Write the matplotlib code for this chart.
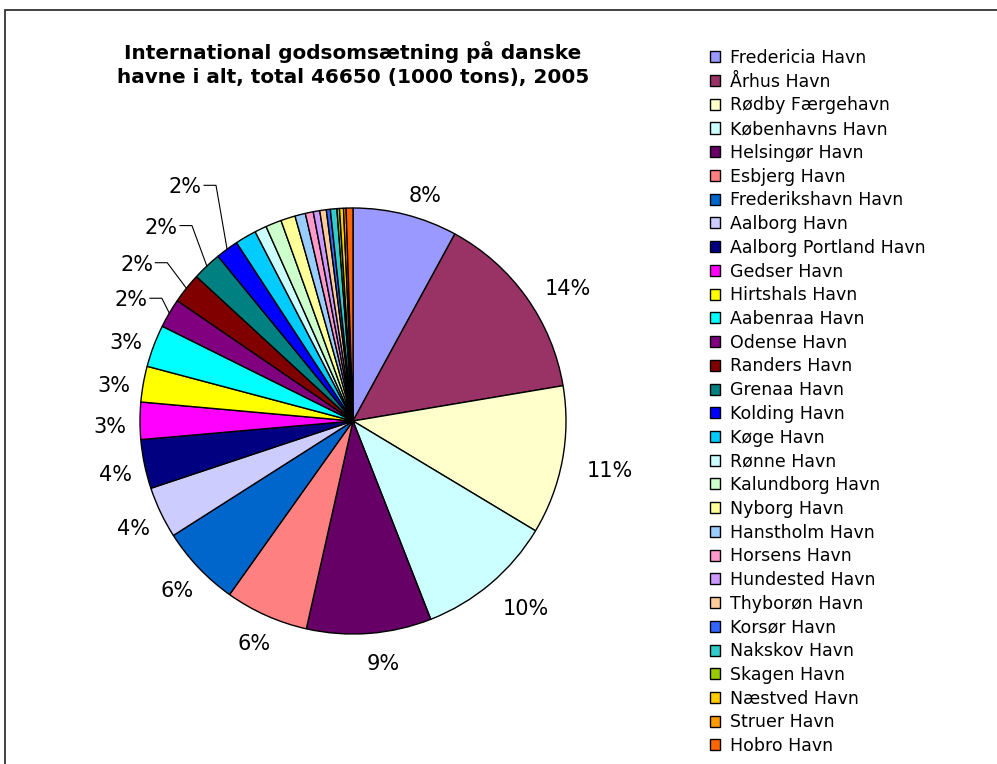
import numpy as np
import matplotlib
matplotlib.use("Agg")
from matplotlib import pyplot as plt
from matplotlib.patches import Rectangle

plt.rcParams['font.family'] = ['DejaVu Sans']

# godsomsaetning pr. havn, 1000 tons (aflaest fra figuren)
ports = ["Fredericia Havn", "Århus Havn", "Rødby Færgehavn", "Københavns Havn",
         "Helsingør Havn", "Esbjerg Havn", "Frederikshavn Havn", "Aalborg Havn",
         "Aalborg Portland Havn", "Gedser Havn", "Hirtshals Havn", "Aabenraa Havn",
         "Odense Havn", "Randers Havn", "Grenaa Havn", "Kolding Havn", "Køge Havn",
         "Rønne Havn", "Kalundborg Havn", "Nyborg Havn", "Hanstholm Havn",
         "Horsens Havn", "Hundested Havn", "Thyborøn Havn", "Korsør Havn",
         "Nakskov Havn", "Skagen Havn", "Næstved Havn", "Struer Havn", "Hobro Havn"]
tons = [3690, 6700, 5240, 4850, 4400, 2940, 2850, 1820,
        1730, 1310, 1260, 1490, 1030, 1070, 1030, 800, 750,
        420, 560, 510, 370, 280, 230, 230, 140,
        230, 90, 140, 90, 240]
colors = ["#9999FF", "#993366", "#FFFFCC", "#CCFFFF", "#660066", "#FF8080",
          "#0066CC", "#CCCCFF", "#000080", "#FF00FF", "#FFFF00", "#00FFFF",
          "#800080", "#800000", "#008080", "#0000FF", "#00CCFF", "#CCFFFF",
          "#CCFFCC", "#FFFF99", "#99CCFF", "#FF99CC", "#CC99FF", "#FFCC99",
          "#3366FF", "#33CCCC", "#99CC00", "#FFCC00", "#FF9900", "#FF6600"]
n_labels = 16
leader_ports = ["Odense Havn", "Randers Havn", "Grenaa Havn", "Kolding Havn"]

title = "International godsomsætning på danske\nhavne i alt, total 46650 (1000 tons), 2005"

fig = plt.figure(figsize=(9.97, 7.64), dpi=100)

# ramme rundt om diagrammet (beskaaret i hoejre og nederste kant)
fig.patches.append(Rectangle((5 / 997, -0.05), 1.1, (764 - 10) / 764 + 0.05,
                             transform=fig.transFigure, fill=False,
                             edgecolor="#333333", linewidth=1.3))

# pie centre at (353, 421) px, radius 213 px
r_px = 213
lim = 1.6
ax = fig.add_axes([(353 - lim * r_px) / 997, (764 - 421 - lim * r_px) / 764,
                   2 * lim * r_px / 997, 2 * lim * r_px / 764])

wedges, _ = ax.pie(tons, colors=colors, startangle=90, counterclock=False,
                   radius=1, wedgeprops=dict(edgecolor="black", linewidth=1))
ax.set_aspect("auto")
ax.set_xlim(-lim, lim)
ax.set_ylim(-lim, lim)
ax.axis("off")

total = float(sum(tons))
# (op, venstre) for knaekket paa hjaelpelinjerne
lead_off = {"Odense Havn": (0.07, -0.035), "Randers Havn": (0.12, -0.09),
            "Grenaa Havn": (0.19, -0.07), "Kolding Havn": (0.30, -0.052)}
for i in range(n_labels):
    w = wedges[i]
    mid = np.deg2rad((w.theta1 + w.theta2) / 2)
    ex, ey = np.cos(mid), np.sin(mid)
    txt = "%d%%" % round(100 * tons[i] / total)
    if ports[i] in leader_ports:
        dy, dx = lead_off[ports[i]]
        ty = ey + dy
        kx = ex + dx
        ax.plot([ex, kx, kx - 0.056], [ey, ty, ty], color="black", lw=0.8)
        ax.text(kx - 0.066, ty - 0.01, txt, ha="right", va="center", fontsize=15)
    else:
        R = 1.08
        hw = len(txt) * 6.5
        ax.annotate(txt, (R * ex, R * ey),
                    xytext=(hw * ex + (12 if ex > 0 else 0), 8 * ey - 6),
                    textcoords="offset pixels",
                    ha="center", va="center", fontsize=15)

fig.text(353 / 997, 1 - 64 / 764, title, ha="center", va="center",
         fontsize=14.4, fontweight="bold", linespacing=1.28)

handles = [Rectangle((0, 0), 1, 1, facecolor=c, edgecolor="black", lw=1) for c in colors]
fig.legend(handles, ports, loc="upper left", bbox_to_anchor=(703 / 997, 1 - 42 / 764),
           frameon=False, fontsize=12.5, handlelength=0.6, handleheight=0.6,
           handletextpad=0.55, labelspacing=0.33, borderaxespad=0)

plt.savefig("out.png", dpi=100)
